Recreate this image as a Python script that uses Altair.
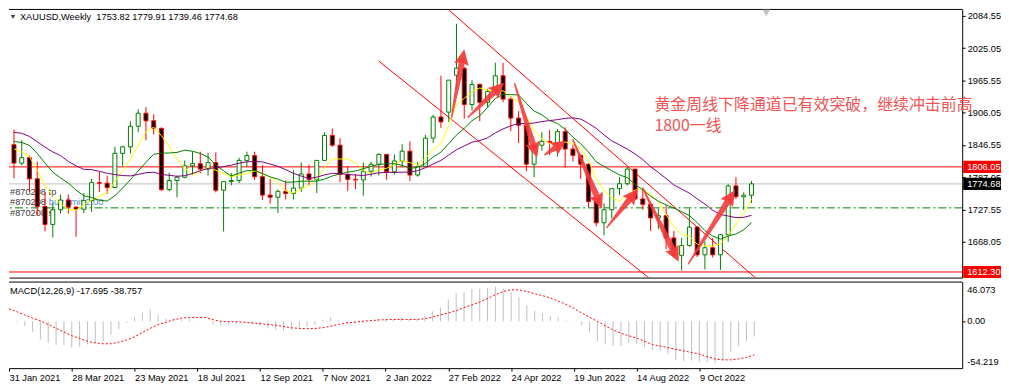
import math
import altair as alt
import pandas as pd

# ---------------- data (weekly XAUUSD) ----------------
week_index = list(range(-1, 95))          # -1 = week of 31 Jan 2021, 94 = week of 27 Nov 2022
opens = [1847, 1813, 1823, 1784, 1733, 1700, 1727, 1745,
         1732, 1728, 1744, 1777, 1776, 1768, 1831, 1843,
         1881, 1905, 1891, 1877, 1764, 1781, 1787, 1808,
         1812, 1802, 1814, 1763, 1779, 1781, 1818, 1827,
         1788, 1754, 1750, 1761, 1757, 1767, 1793, 1783,
         1818, 1864, 1846, 1792, 1783, 1782, 1798, 1811,
         1829, 1797, 1817, 1835, 1791, 1807, 1859, 1898,
         1907, 1975, 1988, 1921, 1958, 1925, 1945, 1974,
         1931, 1896, 1883, 1811, 1846, 1853, 1851, 1871,
         1839, 1827, 1811, 1742, 1703, 1727, 1766, 1775,
         1802, 1747, 1737, 1712, 1716, 1675, 1643, 1661,
         1695, 1644, 1657, 1644, 1681, 1771, 1751, 1753.82]
highs = [1875, 1855, 1827, 1816, 1759, 1740, 1755, 1755,
         1733, 1758, 1784, 1797, 1790, 1843, 1845, 1890,
         1912, 1916, 1903, 1879, 1795, 1790, 1818, 1834,
         1834, 1832, 1833, 1780, 1795, 1823, 1834, 1834,
         1809, 1784, 1764, 1781, 1800, 1814, 1810, 1818,
         1870, 1877, 1859, 1808, 1793, 1814, 1815, 1831,
         1830, 1829, 1848, 1853, 1815, 1865, 1902, 1974,
         1966, 2070, 1990, 1966, 1960, 1950, 1998, 1998,
         1936, 1909, 1885, 1849, 1870, 1874, 1876, 1879,
         1847, 1830, 1813, 1745, 1739, 1767, 1787, 1807,
         1802, 1765, 1740, 1729, 1735, 1688, 1675, 1729,
         1697, 1669, 1675, 1682, 1774, 1787, 1759, 1779.91]
lows = [1785, 1809, 1760, 1717, 1687, 1676, 1720, 1720,
        1677, 1721, 1723, 1760, 1756, 1767, 1808, 1831,
        1870, 1855, 1866, 1762, 1761, 1750, 1785, 1792,
        1794, 1790, 1759, 1687, 1772, 1776, 1806, 1782,
        1745, 1738, 1721, 1746, 1746, 1760, 1772, 1758,
        1817, 1843, 1778, 1762, 1765, 1753, 1788, 1790,
        1782, 1792, 1805, 1780, 1788, 1806, 1850, 1878,
        1889, 1950, 1895, 1910, 1890, 1915, 1940, 1925,
        1872, 1850, 1798, 1787, 1836, 1828, 1825, 1805,
        1816, 1784, 1732, 1697, 1680, 1711, 1754, 1772,
        1745, 1727, 1688, 1691, 1654, 1639, 1615, 1659,
        1640, 1617, 1639, 1616, 1668, 1747, 1727, 1739.46]
closes = [1813, 1823, 1784, 1733, 1700, 1727, 1745, 1732,
          1728, 1744, 1777, 1776, 1768, 1831, 1843, 1881,
          1905, 1891, 1877, 1764, 1781, 1787, 1808, 1812,
          1802, 1814, 1763, 1779, 1781, 1818, 1827, 1788,
          1754, 1750, 1761, 1757, 1767, 1793, 1783, 1818,
          1864, 1846, 1792, 1783, 1782, 1798, 1811, 1829,
          1797, 1817, 1835, 1791, 1807, 1859, 1898, 1889,
          1966, 1988, 1921, 1958, 1925, 1945, 1974, 1931,
          1896, 1883, 1811, 1846, 1853, 1851, 1871, 1839,
          1827, 1811, 1742, 1703, 1727, 1766, 1775, 1802,
          1747, 1737, 1712, 1716, 1675, 1643, 1661, 1695,
          1644, 1657, 1644, 1681, 1771, 1751, 1754, 1774.68]

# closes of the weeks left of the visible area (they only feed the moving averages)
prior_index = list(range(-20, -1))
prior_closes = [1862, 1900, 1930, 1899, 1902, 1879, 1951, 1889, 1872, 1788,
                1839, 1839, 1881, 1877, 1895, 1850, 1829, 1856, 1848]
ma_periods = [5, 10, 20]
ma_colors = ["#ffff00", "#008000", "#800080"]

# MACD(12,26,9)
macd_index = list(range(0, 95))
macd_main = [-0.8, -5.2, -11.9, -21.2, -24.9, -27.5, -27.5, -30.5, -29.8, -26.8,
             -24.9, -23.1, -15.6, -8.9, -1.5, 4.8, 10.0, 13.8, 7.1, 3.0,
             2.2, 1.9, 3.0, 0.6, 0.3, -3.7, -5.2, -4.5, -3.0, -1.5,
             -3.0, -5.6, -8.2, -10.0, -11.2, -10.0, -7.4, -6.3, -4.5, 1.9,
             4.8, 1.1, -2.6, -2.6, -1.5, -0.2, 3.0, 2.2, 2.2, 4.8,
             2.2, 2.2, 6.7, 11.5, 16.0, 25.3, 32.7, 33.9, 37.6, 37.6,
             38.3, 40.2, 38.3, 33.9, 28.3, 18.6, 12.3, 9.3, 6.3, 4.8,
             1.1, 0.4, -4.5, -13.0, -23.1, -26.8, -28.6, -28.6, -24.9, -26.0,
             -29.8, -33.1, -34.2, -37.9, -44.3, -46.1, -45.4, -47.2, -47.2, -48.4,
             -45.4, -35.0, -28.6, -23.1, -17.695]
signal_index = list(range(-1, 95))
macd_signal = [14.5, 11.2, 7.4, 3.7, 0.7, -3.7, -8.2, -12.3, -16.7, -19.7,
               -23.1, -24.9, -26.0, -26.0, -24.2, -21.6, -17.9, -13.0, -8.2, -3.7,
               -1.1, 1.9, 3.7, 4.5, 4.5, 4.5, 1.9, 0.0, -0.4, -0.4,
               -1.1, -1.9, -2.6, -3.7, -4.5, -6.0, -7.4, -8.2, -8.6, -8.2,
               -7.4, -5.6, -3.7, -1.9, -1.1, 0.0, 0.7, 1.5, 1.9, 2.2,
               2.2, 2.2, 2.2, 3.0, 4.8, 7.4, 9.7, 12.3, 16.0, 19.0,
               22.3, 26.4, 30.9, 34.6, 36.5, 36.5, 34.6, 32.0, 29.8, 27.2,
               23.4, 19.7, 14.9, 9.7, 4.8, 0.0, -5.2, -10.0, -13.8, -16.7,
               -19.3, -23.1, -26.8, -28.6, -30.5, -32.4, -34.2, -36.1, -37.9, -40.9,
               -43.5, -44.6, -44.6, -43.5, -41.7, -38.757]
macd_max, macd_min = 46.073, -54.219

x_tick_weeks = [-1, 7, 15, 23, 31, 39, 47, 55, 63, 71, 79, 87]
x_tick_labels = ["31 Jan 2021", "28 Mar 2021", "23 May 2021", "18 Jul 2021",
                 "12 Sep 2021", "7 Nov 2021", "2 Jan 2022", "27 Feb 2022",
                 "24 Apr 2022", "19 Jun 2022", "14 Aug 2022", "9 Oct 2022"]
y_tick_prices = [2084.55, 2025.05, 1965.55, 1906.05, 1846.55, 1787.05, 1727.55, 1668.05]

red_levels = [1806.05, 1612.30]
bid_price = 1774.68
buy_limit_price = 1730.5
box_prices = [1806.05, 1774.68, 1612.30]
box_colors = ["#ff0000", "#000000", "#ff0000"]

# trend channel lines (week index, price)
trend_id = ["upper", "upper", "lower", "lower"]
trend_week = [55.0, 95.5, 46.0, 81.5]
trend_price = [2095.4, 1589.0, 2001.0, 1593.0]

# hand-drawn red arrows: tail -> tip
arrow_tail_i = [55.375, 57.5, 63.5, 67.375, 71.0, 75.375, 80.0, 85.875]
arrow_tail_p = [1897.7, 1897.7, 1959.4, 1828.7, 1856.0, 1694.5, 1767.0, 1627.4]
arrow_tip_i = [57.0, 62.125, 66.375, 70.125, 74.75, 79.375, 84.625, 91.875]
arrow_tip_p = [2022.9, 1961.2, 1823.3, 1854.2, 1728.9, 1765.2, 1631.0, 1763.4]

note_lines = ["黄金周线下降通道已有效突破，继续冲击前高", "1800一线"]
note_week = 81.5
note_prices = [1919.5, 1881.4]

order_label_prices = [1760.3, 1740.4, 1721.1]
title_text = "XAUUSD,Weekly\u00a0\u00a01753.82 1779.91 1739.46 1774.68"
macd_title = "MACD(12,26,9) -17.695 -38.757"
shift_marker_week = 95.9

# ---------------- layout ----------------
W, H1, H2 = 958, 270, 87
XDOM = [-1.0, 120.5]
YDOM = [1601.95, 2097.25]
FONT = "Liberation Sans"
CJK = "Noto Sans CJK SC"
FS = 9.3
ARROW = "#f43c3c"

x_scale = alt.Scale(domain=XDOM, nice=False, zero=False)
y_scale = alt.Scale(domain=YDOM, nice=False, zero=False)
m_scale = alt.Scale(domain=[macd_min, macd_max], nice=False, zero=False)

x_axis_main = alt.Axis(labels=False, ticks=False, grid=False, title=None,
                       domainColor="black")
label_expr = " : ".join(f"datum.value == {w} ? '{t}'" for w, t in zip(x_tick_weeks, x_tick_labels)) + " : ''"
x_axis_macd = alt.Axis(values=x_tick_weeks, labelExpr=label_expr, labelAlign="left",
                       labelBaseline="top", labelPadding=2, tickSize=3, tickColor="black",
                       domainColor="black", labelColor="black", labelFont=FONT,
                       labelFontSize=FS, grid=False, title=None, labelOverlap=False,
                       labelFlush=False, labelBound=False)
y_axis_main = alt.Axis(orient="right", values=y_tick_prices, format=".2f", grid=False,
                       title=None, domainColor="black", tickColor="black", tickSize=3,
                       labelFont=FONT, labelFontSize=FS, labelColor="black", labelPadding=2,
                       labelFlush=False, labelOverlap=False, labelBound=False)
y_axis_macd = alt.Axis(orient="right", values=[0], labels=False, grid=False, title=None,
                       domainColor="black", tickColor="black", tickSize=3)


def xm(field="i"):
    return alt.X(f"{field}:Q", scale=x_scale, axis=x_axis_main)


def xb(field="i"):
    return alt.X(f"{field}:Q", scale=x_scale, axis=x_axis_macd)


def ym(field):
    return alt.Y(f"{field}:Q", scale=y_scale, axis=y_axis_main)


def yb(field):
    return alt.Y(f"{field}:Q", scale=m_scale, axis=y_axis_macd)


candles = pd.DataFrame({"i": week_index, "open": opens, "high": highs,
                        "low": lows, "close": closes})
ma_df = pd.DataFrame({"i": prior_index + week_index, "close": prior_closes + closes})
one = pd.DataFrame({"a": [0]})

bull = "datum.close >= datum.open"

# arrows geometry (built from the tail/tip arrays)
px_i = W / (XDOM[1] - XDOM[0])
px_p = H1 / (YDOM[1] - YDOM[0])
shaft_rows, head_rows = [], []
for k in range(len(arrow_tail_i)):
    ti, tp, hi, hp = arrow_tail_i[k], arrow_tail_p[k], arrow_tip_i[k], arrow_tip_p[k]
    dx = (hi - ti) * px_i
    dy = -(hp - tp) * px_p
    L = math.hypot(dx, dy)
    s = min(12.0, 0.45 * L)
    f = 1 - s / L
    ang = math.degrees(math.atan2(dx, -dy)) % 360
    for t, w in ((0.0, 1.5), (f, 6.5)):
        shaft_rows.append({"aid": k, "t": t, "i": ti + t * (hi - ti),
                           "p": tp + t * (hp - tp), "w": w})
    head_rows.append({"aid": k, "i": ti + f * (hi - ti), "p": tp + f * (hp - tp),
                      "sz": (2 * s) ** 2, "ang": ang})
shaft_df = pd.DataFrame(shaft_rows)
head_df = pd.DataFrame(head_rows)
HEAD_PATH = "M0,-1L0.62,0.3L0,0.1L-0.62,0.3Z"
BOX_PATH = "M-1,-0.32L1,-0.32L1,0.32L-1,0.32Z"

layers = []
# horizontal levels
layers.append(alt.Chart(pd.DataFrame({"p": red_levels})).mark_rule(color="#ff0000", strokeWidth=1)
              .encode(y=ym("p")))
layers.append(alt.Chart(pd.DataFrame({"p": [bid_price]})).mark_rule(color="#c0c0c0", strokeWidth=1)
              .encode(y=ym("p")))
layers.append(alt.Chart(pd.DataFrame({"p": [buy_limit_price]}))
              .mark_rule(color="#008000", strokeWidth=1, strokeDash=[8, 3, 2, 3])
              .encode(y=ym("p")))
# order labels
order_texts = [("#870208 tp", 1, "#404040", 0), ("#870208", 1, "#404040", 1),
               ("buy limit 2.00", 40, "#5a86c8", 1), ("#870208 sl", 1, "#404040", 2)]
for txt, xpix, col, row in order_texts:
    layers.append(alt.Chart(pd.DataFrame({"p": [order_label_prices[row]], "txt": [txt]}))
                  .mark_text(align="left", baseline="middle", font=FONT, fontSize=FS, color=col)
                  .encode(x=alt.value(xpix), y=ym("p"), text="txt:N"))
# trend lines
layers.append(alt.Chart(pd.DataFrame({"tl": trend_id, "i": trend_week, "p": trend_price}))
              .mark_line(color="#ff0000", strokeWidth=1, clip=True)
              .encode(x=xm(), y=ym("p"), detail="tl:N"))
# wicks + bodies
layers.append(alt.Chart(candles).mark_rule(strokeWidth=1, clip=True).encode(
    x=xm(), y=ym("low"), y2=alt.Y2("high:Q"),
    color=alt.condition(bull, alt.value("#008000"), alt.value("#ff0000"))))
layers.append(alt.Chart(candles).mark_bar(size=4, strokeWidth=1, clip=True).encode(
    x=xm(), y=ym("open"), y2=alt.Y2("close:Q"),
    fill=alt.condition(bull, alt.value("#ffffff"), alt.value("#000000")),
    stroke=alt.condition(bull, alt.value("#008000"), alt.value("#ff0000"))))
# moving averages
for n, c in zip(ma_periods, ma_colors):
    layers.append(alt.Chart(ma_df)
                  .transform_window(ma="mean(close)", frame=[-(n - 1), 0],
                                    sort=[alt.SortField("i", order="ascending")])
                  .transform_filter("datum.i >= -1")
                  .mark_line(color=c, strokeWidth=1, clip=True)
                  .encode(x=xm(), y=ym("ma")))
# arrows
layers.append(alt.Chart(shaft_df).mark_trail(color=ARROW, opacity=0.9, clip=True).encode(
    x=xm(), y=ym("p"), size=alt.Size("w:Q", scale=None, legend=None),
    detail="aid:N", order=alt.Order("t:Q")))
layers.append(alt.Chart(head_df).mark_point(shape=HEAD_PATH, filled=True, color=ARROW,
                                            opacity=0.95, strokeWidth=0).encode(
    x=xm(), y=ym("p"), size=alt.Size("sz:Q", scale=None, legend=None),
    angle=alt.Angle("ang:Q", scale=None)))
# chinese note
layers.append(alt.Chart(pd.DataFrame({"i": [note_week] * 2, "p": note_prices, "txt": note_lines}))
              .mark_text(align="left", baseline="middle", font=CJK, fontSize=16, color="#f05454")
              .encode(x=xm(), y=ym("p"), text="txt:N"))
# title
layers.append(alt.Chart(one).mark_point(shape="triangle-down", filled=True, color="black",
                                        size=22, strokeWidth=0)
              .encode(x=alt.value(4), y=alt.value(8)))
layers.append(alt.Chart(pd.DataFrame({"txt": [title_text]}))
              .mark_text(align="left", baseline="middle", font=FONT, fontSize=FS, color="black")
              .encode(x=alt.value(11), y=alt.value(8), text="txt:N"))
# price boxes on the axis
box_df = pd.DataFrame({"p": box_prices, "col": box_colors,
                       "txt": [f"{v:.2f}" for v in box_prices]})
layers.append(alt.Chart(box_df).mark_point(shape=BOX_PATH, filled=True, size=1444,
                                           opacity=1, strokeWidth=0)
              .encode(x=alt.value(W + 20), y=ym("p"), color=alt.Color("col:N", scale=None)))
layers.append(alt.Chart(box_df).mark_text(align="left", baseline="middle", font=FONT,
                                          fontSize=FS, color="white")
              .encode(x=alt.value(W + 5), y=ym("p"), text="txt:N"))
# frame top + chart shift marker
layers.append(alt.Chart(one).mark_rule(color="black", strokeWidth=1).encode(y=alt.value(0.5)))
layers.append(alt.Chart(pd.DataFrame({"i": [shift_marker_week]}))
              .mark_point(shape="triangle-down", filled=True, color="#a8a8a8", size=60, strokeWidth=0)
              .encode(x=xm(), y=alt.value(4)))

main = alt.layer(*layers).properties(width=W, height=H1)

# ---------------- MACD panel ----------------
hist_df = pd.DataFrame({"i": macd_index, "v": macd_main})
sig_df = pd.DataFrame({"i": signal_index, "v": macd_signal})
mlayers = [
    alt.Chart(hist_df).mark_rule(color="#c0c0c0", strokeWidth=1, clip=True)
    .encode(x=xb(), y=yb("v"), y2=alt.datum(0)),
    alt.Chart(sig_df).mark_line(color="#ff0000", strokeWidth=1, strokeDash=[2, 2], clip=True)
    .encode(x=xb(), y=yb("v")),
    alt.Chart(one).mark_rule(color="black", strokeWidth=1).encode(y=alt.value(0.5)),
    alt.Chart(pd.DataFrame({"txt": [macd_title]}))
    .mark_text(align="left", baseline="middle", font=FONT, fontSize=FS, color="black")
    .encode(x=alt.value(1), y=alt.value(9), text="txt:N"),
]
for val, txt, dy in ((macd_max, "46.073", 8), (0.0, "0.00", 0), (macd_min, "-54.219", -6)):
    mlayers.append(alt.Chart(pd.DataFrame({"v": [val], "txt": [txt]}))
                   .mark_text(align="left", baseline="middle", font=FONT, fontSize=FS,
                              color="black", dy=dy)
                   .encode(x=alt.value(W + 5), y=yb("v"), text="txt:N"))
macd = alt.layer(*mlayers).properties(width=W, height=H2)

chart = (alt.vconcat(main, macd, spacing=3)
         .properties(padding=0, background="white")
         .configure_view(stroke=None)
         .configure_axis(domainWidth=1))

chart.save("out.html", embed_options={"renderer": "svg", "actions": False})
